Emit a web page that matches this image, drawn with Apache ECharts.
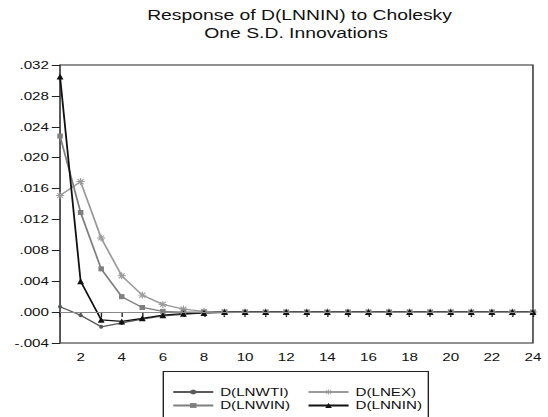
<!DOCTYPE html>
<html lang="en">
<head>
  <meta charset="UTF-8">
  <title>Response of D(LNNIN)</title>
  <style>
    body, html { margin: 0; padding: 0; background: #fff; overflow: hidden; }
    /* the reference graph is stretched sideways, so draw narrow and widen it */
    #main { width: 397px; height: 417px; transform: scaleX(1.3804); transform-origin: 0 0; }
  </style>
</head>
<body>
  <div id="main"></div>
  <script src="https://cdn.jsdelivr.net/npm/echarts@6/dist/echarts.min.js"></script>
  <script>
    // periods 1..24
    var periods = [1, 2, 3, 4, 5, 6, 7, 8, 9, 10, 11, 12, 13, 14, 15, 16, 17, 18, 19, 20, 21, 22, 23, 24];

    var lnwti = [0.0007, -0.0004, -0.0019, -0.0014, -0.0009, -0.0005, -0.0003, -0.0001, -0.00005, 0, 0, 0, 0, 0, 0, 0, 0, 0, 0, 0, 0, 0, 0, 0];
    var lnex  = [0.0151, 0.0169, 0.0096, 0.0047, 0.0022, 0.0010, 0.0004, 0.0001, 0.00003, 0, 0, 0, 0, 0, 0, 0, 0, 0, 0, 0, 0, 0, 0, 0];
    var lnwin = [0.0228, 0.0129, 0.0056, 0.0020, 0.0006, 0.0001, 0, 0, 0, 0, 0, 0, 0, 0, 0, 0, 0, 0, 0, 0, 0, 0, 0, 0];
    var lnnin = [0.0305, 0.0040, -0.0010, -0.0012, -0.0008, -0.0004, -0.0002, -0.0001, 0, 0, 0, 0, 0, 0, 0, 0, 0, 0, 0, 0, 0, 0, 0, 0];

    function pairs(arr) {
      return arr.map(function (v, k) { return [periods[k], v]; });
    }

    // asterisk marker
    var star = 'path://M-0.7,-5 L0.7,-5 L0.7,5 L-0.7,5 Z M-5,-0.7 L5,-0.7 L5,0.7 L-5,0.7 Z ' +
      'M-4.03,-3.03 L-3.03,-4.03 L4.03,3.03 L3.03,4.03 Z M3.03,-4.03 L4.03,-3.03 L-3.03,4.03 L-4.03,3.03 Z';

    var font = 'Liberation Sans, Arial, sans-serif';
    var txt = { fontSize: 11, fontFamily: font, color: '#111' };

    function legendAt(name, left, top) {
      return {
        left: left, top: top, padding: 0, itemGap: 0, itemWidth: 29, itemHeight: 6,
        textStyle: txt, data: [name]
      };
    }

    var chart = echarts.init(document.getElementById('main'), null, { renderer: 'svg' });

    var option = {
      animation: false,
      graphic: [
        { type: 'text', x: 217, y: 8, style: { text: 'Response of D(LNNIN) to Cholesky', fontSize: 14, fontFamily: font, fill: '#111', textAlign: 'center' } },
        { type: 'text', x: 214.5, y: 26.5, style: { text: 'One S.D. Innovations', fontSize: 14, fontFamily: font, fill: '#111', textAlign: 'center' } },
        { type: 'rect', shape: { x: 118.3, y: 371.5, width: 192, height: 60 }, style: { fill: 'none', stroke: '#222', lineWidth: 1 } }
      ],
      grid: { left: 43.5, right: 10.9, top: 65, bottom: 74, show: true, borderColor: '#222', borderWidth: 1 },
      legend: [
        legendAt('D(LNWTI)', 124.5, 386.5),
        legendAt('D(LNEX)', 222.5, 386.5),
        legendAt('D(LNWIN)', 124.5, 400),
        legendAt('D(LNNIN)', 222.5, 400)
      ],
      xAxis: {
        type: 'value', min: 1, max: 24, interval: 1,
        axisLine: { lineStyle: { color: '#222' } },
        axisTick: { show: true, inside: false, length: 5, lineStyle: { color: '#222' } },
        axisLabel: Object.assign({}, txt, {
          margin: 9,
          formatter: function (v) { return v % 2 === 0 ? String(v) : ''; }
        }),
        splitLine: { show: false }
      },
      yAxis: {
        type: 'value', min: -0.004, max: 0.032, interval: 0.004,
        axisLine: { show: true, lineStyle: { color: '#555' } },
        axisTick: { show: true, inside: false, length: 6, lineStyle: { color: '#222' } },
        axisLabel: Object.assign({}, txt, {
          margin: 8,
          formatter: function (v) {
            var s = Math.abs(v).toFixed(3).replace(/^0/, '');
            return (v < -1e-9 ? '-' : '') + s;
          }
        }),
        splitLine: { show: false }
      },
      series: [
        {
          name: 'D(LNWTI)', type: 'line', data: pairs(lnwti), color: '#5a5a5a',
          symbol: 'circle', symbolSize: [3, 4], lineStyle: { width: 1.3, color: '#5a5a5a' },
          markLine: {
            silent: true, symbol: 'none', label: { show: false },
            lineStyle: { color: '#888', type: 'solid', width: 1 },
            data: [{ yAxis: 0 }]
          }
        },
        {
          name: 'D(LNEX)', type: 'line', data: pairs(lnex), color: '#9a9a9a',
          symbol: star, symbolSize: [6, 7], lineStyle: { width: 1.3, color: '#9a9a9a' }
        },
        {
          name: 'D(LNWIN)', type: 'line', data: pairs(lnwin), color: '#7f7f7f',
          symbol: 'rect', symbolSize: [4, 5], lineStyle: { width: 1.3, color: '#7f7f7f' }
        },
        {
          name: 'D(LNNIN)', type: 'line', data: pairs(lnnin), color: '#111',
          symbol: 'triangle', symbolSize: [5, 6], lineStyle: { width: 1.3, color: '#111' }
        }
      ]
    };
    chart.setOption(option);
  </script>
</body>
</html>
